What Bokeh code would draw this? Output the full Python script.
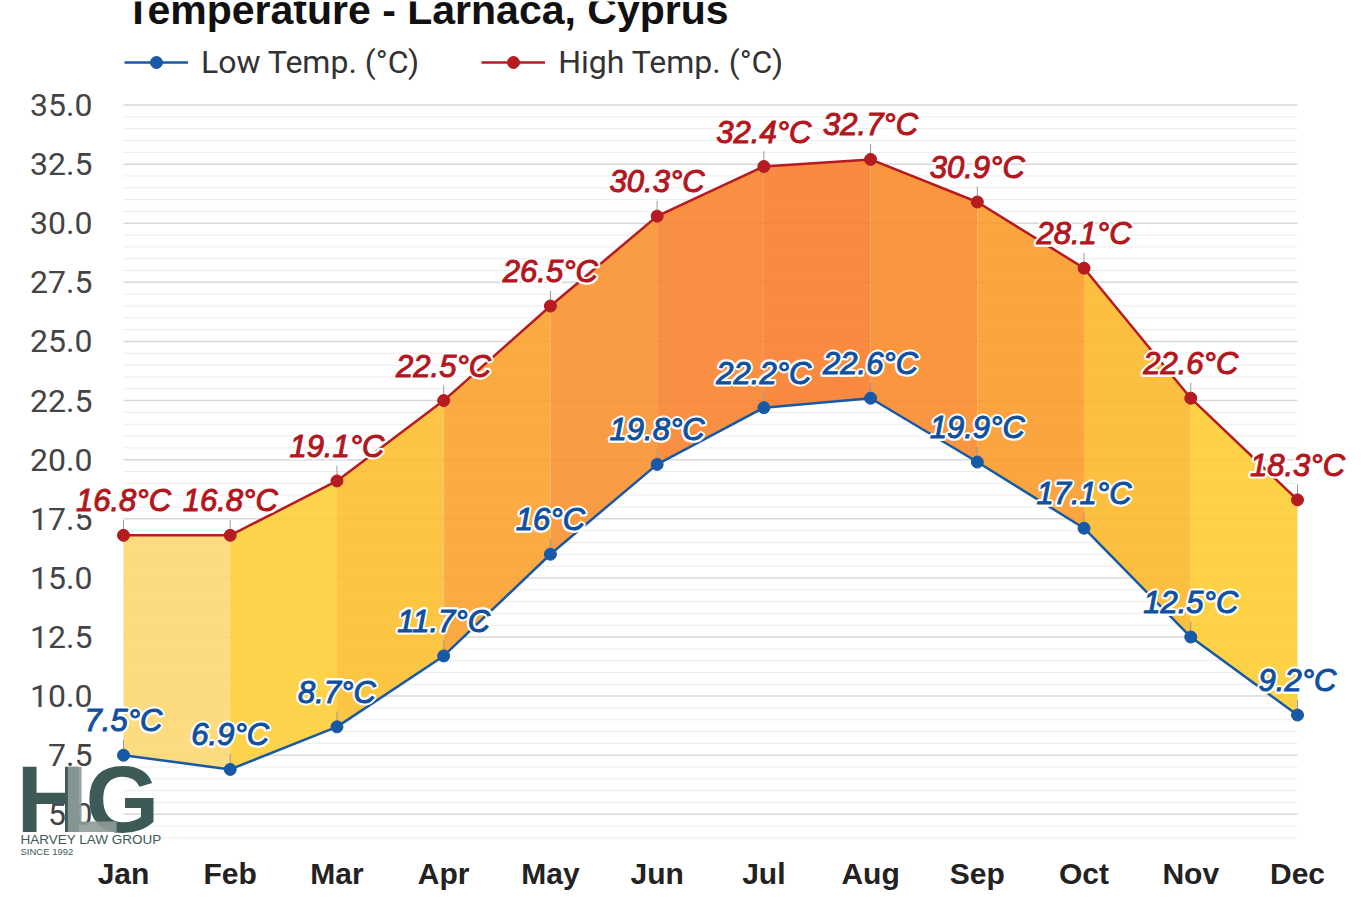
from bokeh.plotting import figure
from bokeh.models import (ColumnDataSource, FixedTicker, PrintfTickFormatter, Legend,
                          LegendItem, Label, LabelSet, Range1d)
from bokeh.core.properties import value
from bokeh.embed import file_html
from bokeh.resources import INLINE

months = ["Jan", "Feb", "Mar", "Apr", "May", "Jun", "Jul", "Aug", "Sep", "Oct", "Nov", "Dec"]
low_temp = [7.5, 6.9, 8.7, 11.7, 16, 19.8, 22.2, 22.6, 19.9, 17.1, 12.5, 9.2]
high_temp = [16.8, 16.8, 19.1, 22.5, 26.5, 30.3, 32.4, 32.7, 30.9, 28.1, 22.6, 18.3]
y_ticks = [5, 7.5, 10, 12.5, 15, 17.5, 20, 22.5, 25, 27.5, 30, 32.5, 35]
minor_ticks = [4 + 0.5 * k for k in range(63) if (4 + 0.5 * k) not in y_ticks]

band_colors = ["#fddb80", "#fdd34d", "#fcc544", "#fbab42", "#f99c45", "#f98f44",
               "#f98a43", "#fa9640", "#fba540", "#fdbf3f", "#fdd247"]

FILL_ALPHA = 0.9


def compensate(hexc, a):
    r, g, b = (int(hexc[i:i + 2], 16) for i in (1, 3, 5))
    out = [max(0, min(255, round((c - (1 - a) * 255) / a))) for c in (r, g, b)]
    return "#%02x%02x%02x" % tuple(out)


x = list(range(len(months)))
W, H = 1358, 892
# frame covers the canvas; screen mapping: x 0 -> 123px, 11 -> 1297px ; y 35 -> 105px, 23.75 px/unit
XS = (1297 - 123) / 11.0
YS = 23.75
FL, FR, FT, FB = 1, W - 1, 1, H - 1
x0 = (FL - 123) / XS
x1 = 11 + (FR - 1297) / XS
y1 = 35 + (105 - FT) / YS
y0 = 35 - (FB - 105) / YS

p = figure(width=W, height=H, output_backend="svg", toolbar_location=None,
           x_range=Range1d(x0, x1), y_range=Range1d(y0, y1),
           min_border_left=FL, min_border_right=W - FR, min_border_top=FT,
           min_border_bottom=H - FB)
p.outline_line_color = None
p.background_fill_color = "white"
p.border_fill_color = "white"
p.xgrid.grid_line_color = None
p.ygrid.grid_line_color = None

# grid lines, only across Jan..Dec
p.segment(x0=[0] * len(minor_ticks), y0=minor_ticks, x1=[11] * len(minor_ticks), y1=minor_ticks,
          line_color="#ececec", line_width=1)
p.segment(x0=[0] * len(y_ticks), y0=y_ticks, x1=[11] * len(y_ticks), y1=y_ticks,
          line_color="#d8d8d8", line_width=1.5)

# bands
xs, ys, cols = [], [], []
for i in range(len(months) - 1):
    xs.append([x[i], x[i + 1], x[i + 1], x[i]])
    ys.append([low_temp[i], low_temp[i + 1], high_temp[i + 1], high_temp[i]])
    cols.append(compensate(band_colors[i], FILL_ALPHA))
p.patches(xs, ys, fill_color=cols, fill_alpha=FILL_ALPHA, line_color=None)

RED = "#b51b20"
BLUE = "#1759a6"

src = ColumnDataSource(dict(
    x=x, low=low_temp, high=high_temp,
    low_top=[v + 0.65 for v in low_temp], high_top=[v + 0.65 for v in high_temp],
    low_lbl=[f"{v:g}°C" for v in low_temp], high_lbl=[f"{v:g}°C" for v in high_temp]))

# connectors
p.segment("x", "low", "x", "low_top", source=src, line_color="#9a9a9a", line_width=1)
p.segment("x", "high", "x", "high_top", source=src, line_color="#9a9a9a", line_width=1)

l_line = p.line("x", "low", source=src, line_color=BLUE, line_width=2.5)
l_pts = p.scatter("x", "low", source=src, size=12, fill_color=BLUE, line_color=BLUE)
h_line = p.line("x", "high", source=src, line_color=RED, line_width=2.5)
h_pts = p.scatter("x", "high", source=src, size=12, fill_color=RED, line_color=RED)

LBL_FONT = dict(text_align="center", text_baseline="alphabetic",
                text_font=value("Liberation Sans"), text_font_style="italic",
                text_font_size="31px")
halo = [(-2, 0), (2, 0), (0, -2), (0, 2), (-1.5, -1.5), (1.5, 1.5), (-1.5, 1.5), (1.5, -1.5)]
for col, yy, color in (("low_lbl", "low", "#10509e"), ("high_lbl", "high", "#b3161d")):
    for dx, dy in halo:
        p.add_layout(LabelSet(x="x", y=yy, text=col, source=src, x_offset=dx, y_offset=24 + dy,
                              text_color="white", text_outline_color="white", **LBL_FONT))
    p.add_layout(LabelSet(x="x", y=yy, text=col, source=src, y_offset=24,
                          text_color=color, text_outline_color=color, **LBL_FONT))

# axes (labels pulled into the frame with negative standoffs)
p.yaxis.ticker = FixedTicker(ticks=y_ticks, minor_ticks=[])
p.yaxis.formatter = PrintfTickFormatter(format="%.1f")
p.yaxis.axis_line_color = None
p.yaxis.major_tick_line_color = None
p.yaxis.minor_tick_line_color = None
p.yaxis.major_tick_out = 0
p.yaxis.major_tick_in = 0
p.yaxis.major_label_standoff = -(92 - FL)
p.yaxis.major_label_text_font = "Roboto"
p.yaxis.major_label_text_font_size = "32px"
p.yaxis.major_label_text_color = "#444444"

p.xaxis.ticker = FixedTicker(ticks=x, minor_ticks=[])
p.xaxis.major_label_overrides = {i: m for i, m in enumerate(months)}
p.xaxis.axis_line_color = None
p.xaxis.major_tick_line_color = None
p.xaxis.minor_tick_line_color = None
p.xaxis.major_tick_out = 0
p.xaxis.major_tick_in = 0
p.xaxis.major_label_standoff = -31
p.xaxis.major_label_text_font = "Liberation Sans"
p.xaxis.major_label_text_font_style = "bold"
p.xaxis.major_label_text_font_size = "30px"
p.xaxis.major_label_text_color = "#222222"

# logo watermark (drawn over the axis labels)
LOGO = "#3e5a56"
for txt, lx, col, alpha in (("H", 16, LOGO, 1.0), ("G", 85, LOGO, 1.0), ("L", 61, "#8d9b99", 0.9)):
    p.add_layout(Label(x=lx - FL, y=FB - 802, x_units="screen", y_units="screen", text=txt,
                       text_font="Liberation Sans", text_font_style="bold",
                       text_font_size="95px", text_color=col, text_alpha=alpha,
                       text_baseline="alphabetic"))
p.add_layout(Label(x=20 - FL, y=FB - 843, x_units="screen", y_units="screen",
                   text="HARVEY LAW GROUP", text_font="Liberation Sans", text_font_size="13.5px",
                   text_color=LOGO, text_baseline="alphabetic"))
p.add_layout(Label(x=20 - FL, y=FB - 855, x_units="screen", y_units="screen",
                   text="SINCE 1992", text_font="Liberation Sans", text_font_size="9.5px",
                   text_color=LOGO, text_baseline="alphabetic"))

# legend
legend = Legend(items=[LegendItem(label="Low Temp. (°C)", renderers=[l_line, l_pts]),
                       LegendItem(label="High Temp. (°C)", renderers=[h_line, h_pts])],
                orientation="horizontal", location=(124 - FL, FB - 85), padding=0, margin=0,
                spacing=62, glyph_width=64, glyph_height=30, label_standoff=13,
                label_text_font="Roboto", label_text_font_size="32px",
                label_text_color="#333333", border_line_color=None,
                background_fill_alpha=0)
p.add_layout(legend, "center")

# title (cut off at the top edge as in the source image)
p.add_layout(Label(x=125 - FL, y=FB - 13, x_units="screen", y_units="screen",
                   text="Temperature - Larnaca, Cyprus", text_font="Liberation Sans",
                   text_font_style="bold", text_font_size="41px", text_color="#111111",
                   text_baseline="alphabetic"))

open("out.html", "w").write(file_html(p, INLINE))
